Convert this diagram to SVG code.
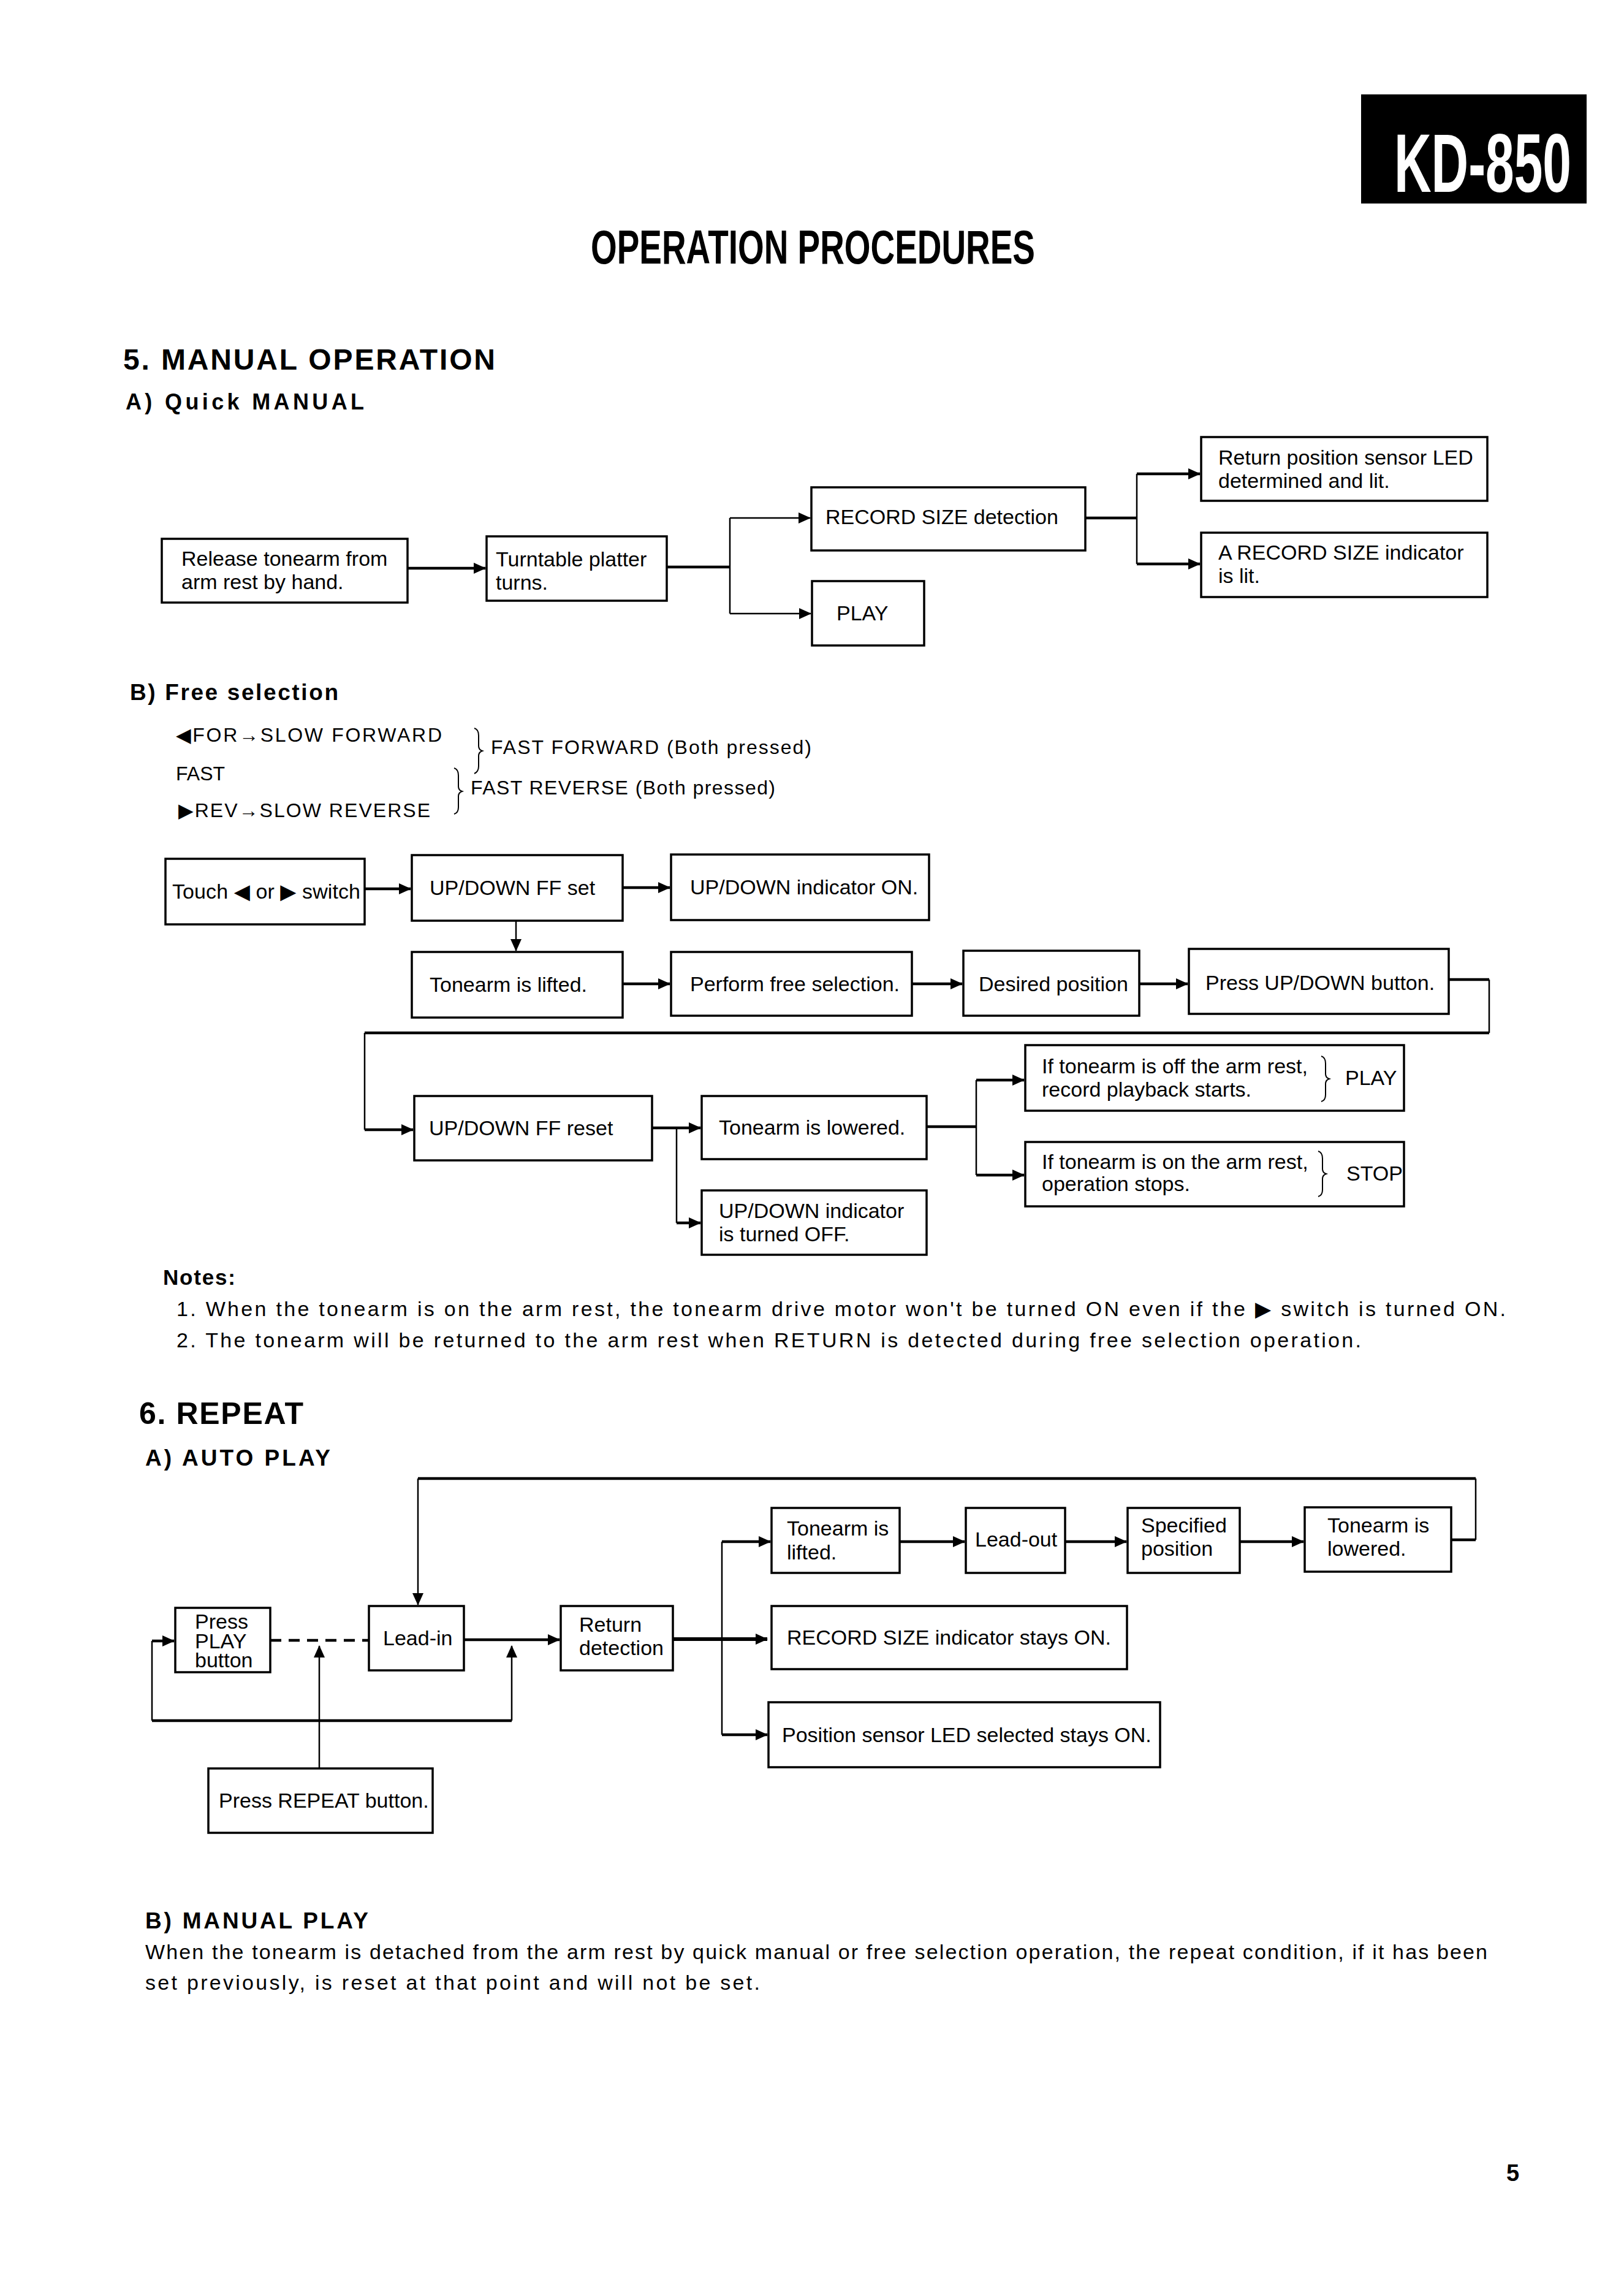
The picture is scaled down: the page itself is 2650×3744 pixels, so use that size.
<svg xmlns="http://www.w3.org/2000/svg" width="2650" height="3744" viewBox="0 0 2650 3744">
<style>
.bg{fill:#fff}
.box{fill:#fff;stroke:#000;stroke-width:3.5}
.t{font-family:"Liberation Sans",Arial,"DejaVu Sans",sans-serif;font-size:34px;fill:#000}
.s{font-size:34px}
.f{font-size:32px}
.h{font-weight:bold}
.c{fill:none;stroke:#000;stroke-width:4.5}
.n{fill:none;stroke:#000;stroke-width:2.5}
.a{marker-end:url(#ah)}
.br{fill:none;stroke:#000;stroke-width:2}
</style>
<defs>
<marker id="ah" markerUnits="userSpaceOnUse" markerWidth="20" markerHeight="18" refX="19" refY="9" orient="auto"><path d="M0,0 L20,9 L0,18 z" fill="#000"/></marker>
</defs>
<rect class="bg" x="0" y="0" width="2650" height="3744"/>

<g id="header">
<rect x="2221" y="154" width="368" height="178" fill="#000"/>
<text transform="translate(2275,313) scale(1,1.7)" x="0" y="0" class="t h" style="font-size:80px;fill:#fff" textLength="289" lengthAdjust="spacingAndGlyphs">KD-850</text>
<text transform="translate(964,430) scale(1,1.43)" x="0" y="0" class="t h" style="font-size:54px" textLength="725" lengthAdjust="spacingAndGlyphs">OPERATION PROCEDURES</text>
<text x="201" y="603" class="t h" style="font-size:48px" textLength="607">5.  MANUAL OPERATION</text>
<text x="205" y="668" class="t h" style="font-size:36px" textLength="389">A)  Quick MANUAL</text>
</g>

<g id="connectors">
<!-- Quick manual -->
<line class="c a" x1="665" y1="927" x2="792" y2="927"/>
<polyline class="c" points="1088,925 1191,925"/>
<line class="n" x1="1191" y1="845" x2="1191" y2="1001"/>
<line class="n a" x1="1191" y1="845" x2="1322" y2="845"/>
<line class="n a" x1="1191" y1="1001" x2="1323" y2="1001"/>
<polyline class="c" points="1771,845 1855,845"/>
<line class="n" x1="1855" y1="773" x2="1855" y2="920"/>
<line class="c a" x1="1855" y1="773" x2="1958" y2="773"/>
<line class="c a" x1="1855" y1="920" x2="1958" y2="920"/>
<!-- Free selection -->
<line class="c a" x1="595" y1="1450" x2="670" y2="1450"/>
<line class="c a" x1="1016" y1="1448" x2="1093" y2="1448"/>
<line class="n a" x1="842" y1="1502" x2="842" y2="1551"/>
<line class="c a" x1="1016" y1="1605" x2="1093" y2="1605"/>
<line class="c a" x1="1488" y1="1605" x2="1570" y2="1605"/>
<line class="c a" x1="1859" y1="1605" x2="1938" y2="1605"/>
<polyline class="c" points="2364,1598 2430,1598"/>
<polyline class="n" points="2430,1598 2430,1685"/>
<polyline class="c" points="2430,1685 595,1685"/>
<polyline class="n" points="595,1685 595,1843"/>
<line class="c a" x1="595" y1="1843" x2="674" y2="1843"/>
<line class="c a" x1="1064" y1="1840" x2="1143" y2="1840"/>
<polyline class="n" points="1104,1840 1104,1995"/>
<line class="c a" x1="1104" y1="1995" x2="1143" y2="1995"/>
<polyline class="c" points="1512,1838 1593,1838"/>
<line class="n" x1="1593" y1="1762" x2="1593" y2="1917"/>
<line class="c a" x1="1593" y1="1762" x2="1671" y2="1762"/>
<line class="c a" x1="1593" y1="1917" x2="1671" y2="1917"/>
<!-- Auto play -->
<polyline class="c" points="2368,2512 2408,2512"/>
<polyline class="n" points="2408,2512 2408,2412"/>
<polyline class="c" points="2408,2412 682,2412"/>
<line class="n a" x1="682" y1="2412" x2="682" y2="2618"/>
<line class="c a" x1="1468" y1="2515" x2="1574" y2="2515"/>
<line class="c a" x1="1738" y1="2515" x2="1838" y2="2515"/>
<line class="c a" x1="2023" y1="2515" x2="2127" y2="2515"/>
<line class="c" x1="441" y1="2676" x2="602" y2="2676" stroke-dasharray="18,12"/>
<line class="c a" x1="757" y1="2675" x2="913" y2="2675"/>
<line class="c a" x1="1096" y1="2674" x2="1252" y2="2674" style="stroke-width:6"/>
<line class="n" x1="1178" y1="2515" x2="1178" y2="2830"/>
<line class="c a" x1="1178" y1="2515" x2="1257" y2="2515"/>
<line class="c a" x1="1178" y1="2830" x2="1252" y2="2830"/>
<polyline class="c" points="248,2807 835,2807"/>
<polyline class="n" points="248,2807 248,2677"/>
<line class="c a" x1="248" y1="2677" x2="284" y2="2677"/>
<line class="n a" x1="835" y1="2807" x2="835" y2="2685"/>
<line class="n a" x1="521" y1="2885" x2="521" y2="2685"/>
</g>

<g id="node-release"><rect class="box" x="264" y="879" width="401" height="104"/>
<text class="t" x="296" y="923">Release tonearm from</text><text class="t" x="296" y="961">arm rest by hand.</text></g>
<g id="node-turntable"><rect class="box" x="794" y="875" width="294" height="105"/>
<text class="t" x="809" y="924">Turntable platter</text><text class="t" x="809" y="962">turns.</text></g>
<g id="node-recordsize"><rect class="box" x="1324" y="795" width="447" height="103"/>
<text class="t" x="1347" y="855">RECORD SIZE detection</text></g>
<g id="node-play"><rect class="box" x="1325" y="948" width="183" height="105"/>
<text class="t" x="1365" y="1012">PLAY</text></g>
<g id="node-returnled"><rect class="box" x="1960" y="713" width="467" height="104"/>
<text class="t" x="1988" y="758">Return position sensor LED</text><text class="t" x="1988" y="796">determined and lit.</text></g>
<g id="node-arecord"><rect class="box" x="1960" y="869" width="467" height="105"/>
<text class="t" x="1988" y="913">A RECORD SIZE indicator</text><text class="t" x="1988" y="951">is lit.</text></g>

<g id="freesel-text">
<text x="212" y="1142" class="t h" style="font-size:37px" textLength="340">B)  Free selection</text>
<text x="287" y="1210" class="t f" textLength="434">◀FOR→SLOW FORWARD</text>
<text x="287" y="1273" class="t f">FAST</text>
<text x="291" y="1333" class="t f" textLength="411">▶REV→SLOW REVERSE</text>
<path class="br" d="M774,1188 Q781,1190 781,1200 L781,1217 Q781,1223 787,1225 Q781,1227 781,1233 L781,1250 Q781,1259 774,1262"/>
<text x="801" y="1230" class="t f" textLength="523">FAST FORWARD (Both pressed)</text>
<path class="br" d="M741,1253 Q748,1255 748,1265 L748,1283 Q748,1289 754,1291 Q748,1293 748,1299 L748,1317 Q748,1326 741,1328"/>
<text x="768" y="1296" class="t f" textLength="497">FAST REVERSE (Both pressed)</text>
</g>

<g id="node-touch"><rect class="box" x="270" y="1401" width="325" height="107"/>
<text class="t" x="281" y="1466" textLength="307">Touch ◀ or ▶ switch</text></g>
<g id="node-ffset"><rect class="box" x="672" y="1395" width="344" height="107"/>
<text class="t" x="701" y="1460">UP/DOWN FF set</text></g>
<g id="node-indon"><rect class="box" x="1095" y="1394" width="421" height="107"/>
<text class="t" x="1126" y="1459">UP/DOWN indicator ON.</text></g>
<g id="node-lifted"><rect class="box" x="672" y="1553" width="344" height="107"/>
<text class="t" x="701" y="1618">Tonearm is lifted.</text></g>
<g id="node-perform"><rect class="box" x="1095" y="1553" width="393" height="104"/>
<text class="t" x="1126" y="1617">Perform free selection.</text></g>
<g id="node-desired"><rect class="box" x="1572" y="1551" width="287" height="106"/>
<text class="t" x="1597" y="1617">Desired position</text></g>
<g id="node-pressupdown"><rect class="box" x="1940" y="1548" width="424" height="106"/>
<text class="t" x="1967" y="1615">Press UP/DOWN button.</text></g>
<g id="node-ffreset"><rect class="box" x="676" y="1788" width="388" height="105"/>
<text class="t" x="700" y="1852">UP/DOWN FF reset</text></g>
<g id="node-lowered"><rect class="box" x="1145" y="1788" width="367" height="103"/>
<text class="t" x="1173" y="1851">Tonearm is lowered.</text></g>
<g id="node-indoff"><rect class="box" x="1145" y="1942" width="367" height="105"/>
<text class="t" x="1173" y="1987">UP/DOWN indicator</text><text class="t" x="1173" y="2025">is turned OFF.</text></g>
<g id="node-offrest"><rect class="box" x="1673" y="1705" width="618" height="107"/>
<text class="t" x="1700" y="1751">If tonearm is off the arm rest,</text><text class="t" x="1700" y="1789">record playback starts.</text>
<path class="br" d="M2156,1723 Q2163,1725 2163,1735 L2163,1752 Q2163,1758 2169,1760 Q2163,1762 2163,1768 L2163,1786 Q2163,1795 2156,1797"/>
<text class="t" x="2195" y="1770">PLAY</text></g>
<g id="node-onrest"><rect class="box" x="1673" y="1863" width="618" height="105"/>
<text class="t" x="1700" y="1907">If tonearm is on the arm rest,</text><text class="t" x="1700" y="1943">operation stops.</text>
<path class="br" d="M2151,1878 Q2158,1880 2158,1890 L2158,1907 Q2158,1913 2164,1915 Q2158,1917 2158,1923 L2158,1941 Q2158,1950 2151,1952"/>
<text class="t" x="2197" y="1926">STOP</text></g>

<g id="notes">
<text x="266" y="2096" class="t h" style="font-size:35px" textLength="118">Notes:</text>
<text x="288" y="2147" class="t s" textLength="2169">1. When the tonearm is on the arm rest, the tonearm drive motor won't be turned ON even if the ▶ switch is turned ON.</text>
<text x="288" y="2198" class="t s" textLength="1933">2. The tonearm will be returned to the arm rest when RETURN is detected during free selection operation.</text>
<text x="227" y="2323" class="t h" style="font-size:50px" textLength="268">6.  REPEAT</text>
<text x="237" y="2391" class="t h" style="font-size:37px" textLength="302">A)  AUTO PLAY</text>
</g>

<g id="node-ap-lifted"><rect class="box" x="1259" y="2460" width="209" height="106"/>
<text class="t" x="1284" y="2505">Tonearm is</text><text class="t" x="1284" y="2544">lifted.</text></g>
<g id="node-leadout"><rect class="box" x="1576" y="2460" width="162" height="106"/>
<text class="t" x="1591" y="2523">Lead-out</text></g>
<g id="node-specified"><rect class="box" x="1840" y="2460" width="183" height="106"/>
<text class="t" x="1862" y="2500">Specified</text><text class="t" x="1862" y="2538">position</text></g>
<g id="node-ap-lowered"><rect class="box" x="2129" y="2459" width="239" height="105"/>
<text class="t" x="2166" y="2500">Tonearm is</text><text class="t" x="2166" y="2538">lowered.</text></g>
<g id="node-pressplay"><rect class="box" x="286" y="2623" width="155" height="105"/>
<text class="t" x="318" y="2657">Press</text><text class="t" x="318" y="2689">PLAY</text><text class="t" x="318" y="2720">button</text></g>
<g id="node-leadin"><rect class="box" x="602" y="2620" width="155" height="105"/>
<text class="t" x="625" y="2684">Lead-in</text></g>
<g id="node-returndet"><rect class="box" x="915" y="2620" width="183" height="105"/>
<text class="t" x="945" y="2662">Return</text><text class="t" x="945" y="2700">detection</text></g>
<g id="node-rsstays"><rect class="box" x="1259" y="2620" width="580" height="103"/>
<text class="t" x="1284" y="2683">RECORD SIZE indicator stays ON.</text></g>
<g id="node-posstays"><rect class="box" x="1254" y="2777" width="639" height="106"/>
<text class="t" x="1276" y="2842">Position sensor LED selected stays ON.</text></g>
<g id="node-repeat"><rect class="box" x="340" y="2885" width="366" height="105"/>
<text class="t" x="357" y="2949">Press REPEAT button.</text></g>

<g id="manualplay">
<text x="237" y="3146" class="t h" style="font-size:37px" textLength="364">B)  MANUAL PLAY</text>
<text x="237" y="3196" class="t s" textLength="2190">When the tonearm is detached from the arm rest by quick manual or free selection operation, the repeat condition, if it has been</text>
<text x="237" y="3246" class="t s" textLength="1003">set previously, is reset at that point and will not be set.</text>
<text x="2458" y="3558" class="t h" style="font-size:38px">5</text>
</g>
</svg>
